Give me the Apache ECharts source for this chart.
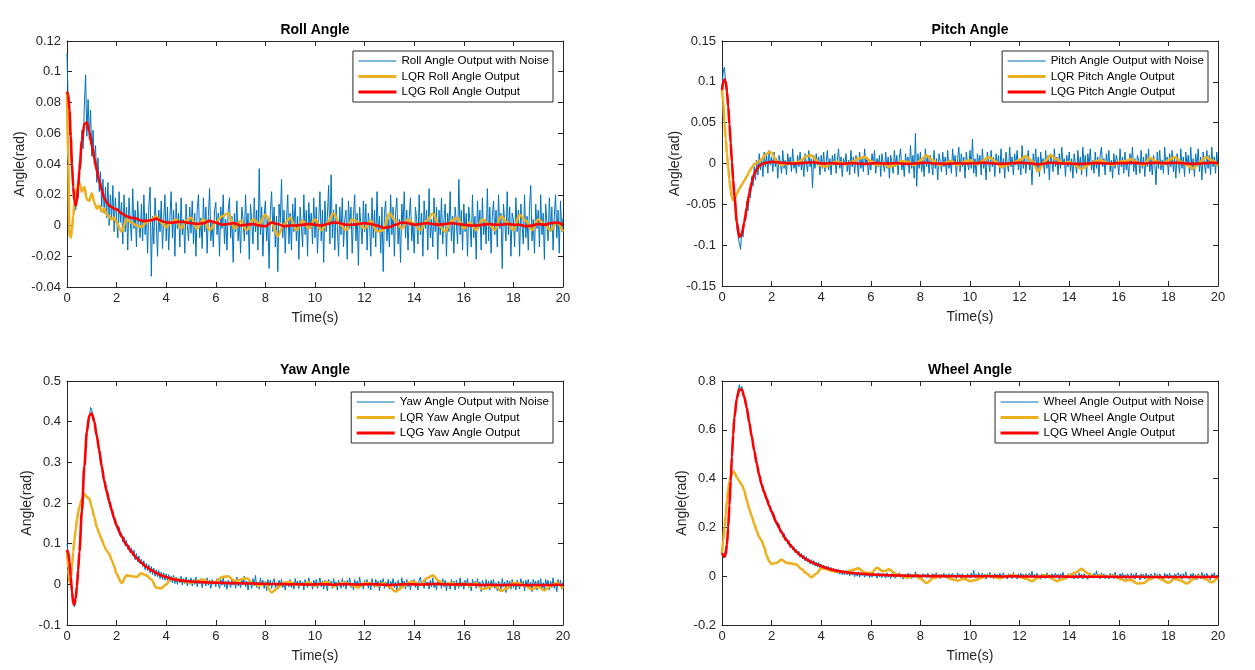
<!DOCTYPE html>
<html><head><meta charset="utf-8">
<script src="https://cdn.jsdelivr.net/npm/echarts@6/dist/echarts.min.js"></script>
<style>html,body{margin:0;padding:0;background:#fff}#c{width:1255px;height:670px}</style>
</head><body><div id="c"></div>
<script>
// ---------- DATA ----------
// knot times (s) for the smooth LQR / LQG responses
const T_SMOOTH = [
0,0.05,0.1,0.15,0.2,0.25,0.3,0.35,0.4,0.45,
0.5,0.6,0.7,0.8,0.9,1,1.1,1.2,1.3,1.4,
1.5,1.6,1.7,1.8,1.9,2,2.2,2.4,2.6,2.8,
3,3.2,3.4,3.6,3.8,4,4.2,4.4,4.6,4.8,
5,5.25,5.5,5.75,6,6.25,6.5,6.75,7,7.25,
7.5,7.75,8,8.25,8.5,8.75,9,9.25,9.5,9.75,
10,10.25,10.5,10.75,11,11.25,11.5,11.75,12,12.25,
12.5,12.75,13,13.25,13.5,13.75,14,14.25,14.5,14.75,
15,15.25,15.5,15.75,16,16.25,16.5,16.75,17,17.25,
17.5,17.75,18,18.25,18.5,18.75,19,19.25,19.5,19.75,
20];
// sample step (s) of the noisy measurement series (t = 0 ... 20)
const NOISE_DT = 0.05;

const ROLL_LQG = [
0.087,0.085,0.075,0.058,0.040,0.025,0.016,0.013,0.016,0.025,
0.036,0.055,0.066,0.067,0.061,0.052,0.044,0.036,0.029,0.023,
0.018,0.015,0.013,0.012,0.011,0.0105,0.008,0.006,0.005,0.0045,
0.003,0.003,0.0035,0.0045,0.003,0.002,0.0018,0.0022,0.0025,0.002,
0.0015,0.001,0.0015,0.003,0.002,0.0005,0.001,0.0015,0,0.0005,
0.001,0,-0.0005,0.002,0.001,-0.0005,0,0,0.0005,0.001,
0.0005,0,0.001,0.002,0.0015,0.0005,0.0005,0.001,0.0015,0.001,
0,-0.0015,-0.001,0.0005,0.002,0.0015,0.0005,0.001,0.0015,0.001,
0.0005,0.001,0.0015,0.001,0.0005,0,0,0.0005,0.001,0.0005,
0.0005,0.001,0.0005,0.0005,-0.0005,0,0.001,0.0005,0.0015,0.002,
0.0005];
const ROLL_LQR = [
0.087,0.04,-0.006,-0.008,-0.003,0.006,0.014,0.02,0.024,0.027,
0.028,0.022,0.025,0.017,0.016,0.021,0.015,0.011,0.013,0.009,
0.011,0.007,0.006,0.004,0.005,0.002,-0.004,0.004,0.002,0,
-0.001,0.002,0.004,0.006,0.002,-0.001,0.002,0.004,-0.002,0.003,
0.005,-0.002,0.004,-0.003,0.002,0.006,0.008,-0.002,0.003,-0.003,
0.004,0.001,0.007,0.002,-0.007,0.001,0.005,-0.003,0.003,-0.002,
0.004,-0.003,0.002,0.008,0.001,-0.003,0.004,0.002,-0.002,0.003,
-0.004,-0.003,0.008,0.003,-0.002,0.004,0.001,-0.003,0.003,0.008,
0,-0.004,0.003,0.005,-0.002,0.002,-0.003,0.004,0.001,-0.003,
0.006,0.002,-0.003,0.007,0.003,-0.003,0.004,0.001,-0.003,0.002,
-0.004];
const ROLL_NOISE = [
0.112,0.078,0.072,0.05,0.042,0.022,0.02,0.01,0.022,0.018,0.042,0.038,0.062,0.05,0.078,0.098,0.058,0.082,0.056,0.075,
0.045,0.062,0.04,0.052,0.028,0.044,0.022,0.035,0.012,0.03,0.008,0.025,0.005,0.028,0.0,0.02,0.004,0.026,-0.004,0.018,
0.005,-0.008,0.022,0.002,0.015,-0.012,0.02,-0.004,0.012,-0.016,0.018,0.003,-0.01,0.024,-0.002,0.01,-0.014,0.016,0.0,-0.008,
0.014,-0.01,0.02,-0.006,0.008,-0.018,0.012,0.025,-0.033,0.006,-0.012,0.018,0.002,-0.02,0.01,-0.004,0.016,-0.015,0.004,0.02,
-0.01,0.012,-0.016,0.005,0.022,-0.008,0.01,-0.02,0.015,-0.002,0.008,-0.014,0.018,-0.006,0.004,-0.018,0.014,0.0,-0.01,0.012,
-0.005,0.016,-0.012,0.008,-0.02,0.01,0.02,-0.008,0.005,-0.015,0.018,-0.004,0.012,-0.018,0.006,0.024,-0.01,0.002,-0.014,0.01,
0.015,-0.006,0.008,-0.02,0.012,-0.002,0.02,-0.012,0.004,-0.016,0.01,0.018,-0.008,0.006,-0.024,0.008,-0.004,0.016,-0.01,0.003,
-0.018,0.012,0.004,-0.01,0.02,-0.006,0.008,-0.022,0.014,0.002,-0.012,0.018,-0.004,0.01,-0.016,0.037,-0.006,0.012,-0.02,0.006,
0.016,-0.01,0.004,-0.028,0.01,0.022,-0.004,0.012,-0.014,0.006,-0.03,0.014,0.002,0.03,-0.008,0.01,-0.018,0.004,0.02,-0.012,
0.008,-0.016,0.014,-0.004,0.018,-0.01,0.006,-0.022,0.012,0.0,-0.014,0.02,-0.006,0.01,-0.02,0.015,-0.002,0.008,-0.012,0.018,
-0.008,0.012,-0.018,0.004,0.022,-0.01,0.01,-0.024,0.016,-0.004,0.006,0.026,-0.012,0.033,-0.008,0.01,-0.016,0.014,0.0,-0.02,
0.012,-0.006,0.018,-0.014,0.004,0.01,-0.022,0.016,-0.002,0.012,-0.018,0.006,0.02,-0.01,0.008,-0.026,0.012,0.0,-0.012,0.016,
-0.004,0.014,-0.016,0.008,0.002,-0.02,0.018,-0.008,0.01,-0.014,0.022,-0.004,0.006,-0.018,0.012,-0.03,0.008,0.016,-0.01,0.004,
-0.014,0.02,-0.006,0.012,-0.02,0.008,0.018,-0.012,0.004,-0.024,0.014,0.0,0.022,-0.008,0.01,-0.016,0.006,0.018,-0.01,0.002,
-0.018,0.012,0.004,-0.012,0.02,-0.006,0.008,-0.02,0.016,-0.002,0.01,-0.016,0.024,-0.008,0.004,-0.014,0.018,-0.004,0.012,-0.022,
0.01,-0.006,0.018,-0.012,0.004,0.014,-0.02,0.008,-0.004,0.022,-0.01,0.006,-0.018,0.012,0.002,-0.012,0.03,-0.006,0.01,-0.016,
0.014,-0.004,0.008,-0.02,0.012,0.002,-0.014,0.02,-0.008,0.006,-0.022,0.016,-0.002,0.01,-0.016,0.018,-0.006,0.004,-0.012,0.024,
-0.01,0.012,-0.018,0.006,0.016,-0.006,0.01,-0.014,0.02,-0.002,0.008,-0.028,0.014,0.002,-0.01,0.022,-0.006,0.012,-0.02,0.008,
0.004,-0.014,0.018,-0.004,0.01,-0.02,0.014,0.0,-0.012,0.02,-0.008,0.006,-0.016,0.012,0.026,-0.01,0.004,-0.018,0.014,-0.002,
0.01,-0.014,0.02,-0.006,0.008,-0.022,0.014,0.002,-0.01,0.018,-0.004,0.012,-0.016,0.006,0.02,-0.008,0.01,-0.018,0.016,-0.004,
0.005];

const PITCH_LQG = [
0.09,0.099,0.103,0.1,0.088,0.07,0.048,0.025,0.002,-0.02,
-0.04,-0.072,-0.09,-0.086,-0.072,-0.054,-0.037,-0.023,-0.013,-0.007,
-0.003,-0.001,0.0005,0.001,0.0015,0.002,0.0015,0.001,0.0005,0,
0,0.0005,0.001,0.0015,0.001,0,0,0.0005,0,-0.0005,
0,0.0005,0,-0.0005,0,0.0005,0,0,0.0005,0,
-0.0005,0,0.0005,0.001,0,0,-0.0005,0,0.0005,0,
0,0.0005,0.001,0.0005,0,-0.0005,0,0.0005,0.001,0.0005,
0,-0.001,0,0.001,0.0005,0,0,-0.0005,-0.0005,0,
0.0005,0.0005,0,0,0.0005,0.0005,0.001,0.0005,0,0.0005,
0.001,0.0005,0.0005,0.001,0.0005,0,-0.0005,0,0.0005,0.001,
0.0005];
const PITCH_LQR = [
0.09,0.075,0.05,0.03,0.012,-0.005,-0.02,-0.033,-0.041,-0.045,
-0.044,-0.037,-0.031,-0.026,-0.021,-0.016,-0.01,-0.005,-0.001,0.001,
0.003,0.005,0.009,0.012,0.014,0.013,0.003,-0.002,0,0.001,
0.001,0.004,0.009,0.01,0.004,-0.003,-0.004,0,0.002,0.001,
-0.001,0.002,0.006,0.008,0.003,-0.002,0,-0.004,-0.002,0.003,
0.002,-0.002,0.004,0.01,0.004,-0.002,0.001,0.003,-0.002,0.002,
0.004,-0.001,0.003,0.008,0.003,-0.004,-0.002,0.001,0.004,0.009,
0.003,-0.009,0.002,0.01,0.005,0,0.002,-0.002,-0.007,-0.002,
0.002,0.004,0.001,-0.002,0.002,0.003,0.005,0.001,-0.002,0.007,
0.003,-0.001,0.004,0.008,0.002,-0.002,-0.006,0.001,0.008,0.004,
-0.003];
const PITCH_NOISE = [
0.095,0.112,0.118,0.098,0.094,0.072,0.05,0.028,0.006,-0.018,-0.045,-0.05,-0.08,-0.078,-0.098,-0.105,-0.082,-0.09,-0.066,-0.07,
-0.046,-0.058,-0.03,-0.042,-0.016,-0.028,-0.004,-0.02,0.004,-0.014,0.012,-0.008,0.006,-0.016,0.014,-0.004,0.01,-0.012,0.016,-0.002,
0.008,-0.01,0.014,-0.004,0.006,-0.018,0.01,0.002,-0.012,0.016,-0.006,0.004,-0.014,0.012,-0.002,0.008,-0.01,0.018,-0.006,0.002,
-0.012,0.01,-0.004,0.014,-0.008,0.004,-0.016,0.012,0.0,-0.01,0.016,-0.004,0.006,-0.03,0.01,-0.006,0.012,-0.002,0.008,-0.014,
0.01,-0.006,0.014,-0.01,0.002,0.016,-0.008,0.006,-0.014,0.01,-0.002,0.012,-0.012,0.004,0.018,-0.006,0.008,-0.016,0.006,-0.002,
0.012,-0.01,0.004,-0.014,0.016,-0.004,0.008,-0.012,0.01,0.002,-0.016,0.014,-0.006,0.006,-0.01,0.018,-0.002,0.008,-0.014,0.004,
-0.008,0.012,-0.002,0.016,-0.012,0.006,-0.004,0.01,-0.016,0.012,0.0,-0.01,0.014,-0.006,0.008,-0.018,0.01,0.002,-0.012,0.016,
-0.004,0.01,-0.014,0.006,0.018,-0.008,0.004,-0.016,0.012,-0.002,0.008,-0.012,0.022,-0.006,0.01,-0.018,0.037,-0.028,0.012,-0.006,
0.014,-0.01,0.004,-0.016,0.018,-0.004,0.008,-0.012,0.01,0.0,-0.014,0.016,-0.006,0.006,-0.02,0.012,0.002,-0.01,0.014,-0.004,
0.008,-0.014,0.016,-0.006,0.004,-0.012,0.018,-0.002,0.01,-0.016,0.006,0.02,-0.01,0.012,-0.004,0.008,-0.018,0.014,0.0,-0.008,
0.016,-0.006,0.03,-0.012,0.006,-0.016,0.012,-0.002,0.01,-0.014,0.018,-0.006,0.004,-0.02,0.014,0.002,-0.01,0.016,-0.004,0.008,
-0.016,0.012,-0.002,0.01,-0.012,0.018,-0.006,0.006,-0.018,0.014,0.0,-0.01,0.02,-0.004,0.008,-0.014,0.012,-0.002,0.016,-0.008,
0.006,-0.014,0.022,-0.006,0.01,-0.012,0.004,0.016,-0.008,0.002,-0.026,0.012,-0.004,0.018,-0.01,0.008,-0.016,0.014,-0.002,0.006,
-0.012,0.016,-0.006,0.01,-0.02,0.012,0.002,-0.01,0.018,-0.004,0.008,-0.014,0.012,-0.006,0.02,-0.002,0.006,-0.016,0.01,-0.004,
0.014,-0.01,0.006,-0.018,0.012,0.0,-0.012,0.016,-0.006,0.008,-0.014,0.02,-0.004,0.01,-0.016,0.012,-0.002,0.018,-0.008,0.004,
-0.012,0.014,-0.006,0.008,-0.016,0.01,0.02,-0.004,0.006,-0.014,0.012,-0.002,0.016,-0.01,0.004,-0.018,0.012,-0.006,0.01,0.002,
-0.014,0.018,-0.004,0.008,-0.012,0.014,-0.008,0.002,-0.016,0.012,-0.002,0.02,-0.01,0.006,-0.014,0.01,0.004,-0.012,0.016,-0.006,
0.008,-0.016,0.012,-0.004,0.018,-0.01,0.006,-0.014,0.01,0.0,-0.026,0.014,-0.006,0.016,-0.008,0.004,-0.012,0.02,-0.002,0.008,
-0.014,0.012,-0.004,0.016,-0.01,0.006,-0.018,0.012,0.002,-0.012,0.018,-0.006,0.008,-0.016,0.014,-0.002,0.01,-0.012,0.02,-0.008,
0.006,-0.016,0.012,-0.004,0.018,-0.01,0.008,-0.02,0.014,0.0,-0.012,0.016,-0.006,0.01,-0.014,0.02,-0.004,0.008,-0.012,0.014,
-0.004];

const YAW_LQG = [
0.085,0.078,0.055,0.02,-0.018,-0.045,-0.05,-0.035,-0.005,0.035,
0.08,0.18,0.29,0.375,0.415,0.42,0.4,0.365,0.33,0.29,
0.255,0.23,0.205,0.183,0.163,0.145,0.118,0.097,0.08,0.065,
0.053,0.043,0.035,0.028,0.022,0.018,0.014,0.011,0.009,0.008,
0.007,0.006,0.005,0.0045,0.004,0.0035,0.003,0.003,0.0025,0.002,
0.002,0.0015,0.001,0.001,0.0005,0.0005,0,0.0005,0,-0.0005,
0,0.0005,0,-0.001,0,0.0005,0,-0.0005,0,0.0005,
0,-0.001,-0.0015,-0.001,0,0.0005,0,-0.0005,0,0.001,
0.0005,0,-0.0005,0,0,-0.0005,-0.001,-0.0015,-0.001,-0.0015,
-0.002,-0.0015,-0.001,-0.0015,-0.002,-0.002,-0.0015,-0.002,-0.0015,-0.001,
-0.0015];
const YAW_LQR = [
0.085,0.04,0.005,0.015,0.045,0.08,0.11,0.135,0.158,0.178,
0.19,0.21,0.222,0.215,0.21,0.19,0.165,0.14,0.125,0.11,
0.095,0.082,0.075,0.06,0.045,0.025,0.003,0.022,0.02,0.018,
0.027,0.022,0.012,-0.008,-0.01,0,0.015,0.012,0.01,0.006,
0.004,0.008,0.012,0.004,0.006,0.018,0.02,0.008,0.012,0.015,
0.002,-0.004,0.003,-0.02,-0.008,0.004,0.006,-0.002,0,0.005,
-0.004,0.002,0.006,-0.005,0.002,0.004,-0.003,-0.008,0.004,0.002,
-0.004,0.003,-0.006,-0.018,-0.008,0.004,0.006,-0.002,0.015,0.022,
0.008,0,0.004,-0.003,0.002,-0.004,0.003,-0.012,-0.008,-0.002,
-0.016,-0.01,0.004,0.002,-0.004,-0.012,-0.006,-0.015,-0.004,0.004,
-0.01];
const YAW_NOISE = [
0.1,0.072,0.06,0.015,-0.014,-0.05,-0.055,-0.03,-0.01,0.04,0.076,0.135,0.176,0.24,0.285,0.34,0.37,0.405,0.41,0.435,
0.43,0.405,0.41,0.378,0.372,0.34,0.336,0.304,0.296,0.266,0.262,0.236,0.238,0.21,0.212,0.188,0.19,0.166,0.17,0.148,
0.152,0.132,0.14,0.118,0.126,0.104,0.116,0.094,0.108,0.086,0.096,0.078,0.09,0.07,0.084,0.06,0.076,0.055,0.07,0.05,
0.062,0.044,0.058,0.036,0.052,0.034,0.048,0.028,0.044,0.024,0.04,0.02,0.036,0.018,0.034,0.014,0.03,0.012,0.028,0.01,
0.026,0.01,0.024,0.006,0.02,0.004,0.022,0.002,0.018,0.0,0.016,0.004,0.02,-0.002,0.014,0.002,0.018,-0.004,0.012,0.0,
0.016,-0.004,0.012,0.0,0.018,-0.006,0.01,0.002,0.014,-0.008,0.012,0.004,-0.004,0.016,-0.002,0.01,-0.01,0.012,0.0,0.008,
-0.006,0.014,0.002,-0.01,0.012,-0.002,0.016,-0.006,0.008,-0.012,0.01,0.004,-0.008,0.014,-0.002,0.01,-0.01,0.018,-0.004,0.006,
-0.008,0.012,0.0,0.02,-0.006,0.008,-0.014,0.01,0.002,-0.01,0.014,-0.004,0.022,-0.008,0.006,-0.012,0.016,-0.002,0.01,-0.01,
0.008,-0.016,0.012,-0.004,0.01,-0.01,0.006,0.014,-0.008,0.004,-0.012,0.01,-0.002,0.012,-0.008,0.006,-0.014,0.008,0.0,-0.006,
0.012,-0.008,0.004,-0.012,0.014,-0.002,0.008,-0.01,0.01,-0.004,0.006,-0.014,0.012,0.0,-0.008,0.016,-0.004,0.006,-0.012,0.01,
-0.004,0.012,-0.01,0.004,0.016,-0.006,0.008,-0.012,0.01,0.0,-0.016,0.012,-0.004,0.008,-0.01,0.014,-0.002,0.006,-0.014,0.01,
0.002,-0.01,0.014,-0.006,0.008,-0.012,0.01,-0.002,0.016,-0.008,0.004,-0.014,0.012,-0.004,0.008,-0.01,0.018,-0.006,0.004,-0.012,
0.01,-0.002,0.012,-0.01,0.006,-0.014,0.014,0.0,-0.008,0.012,-0.004,0.008,-0.016,0.01,-0.002,0.014,-0.01,0.006,-0.006,0.012,
-0.012,0.008,-0.002,0.014,-0.008,0.006,-0.016,0.01,0.0,-0.01,0.016,-0.004,0.008,-0.012,0.012,-0.006,0.004,-0.014,0.01,-0.002,
0.012,-0.008,0.006,-0.014,0.01,0.018,-0.004,0.008,-0.01,0.014,-0.002,0.006,-0.012,0.01,-0.006,0.016,-0.008,0.004,-0.014,0.012,
-0.002,0.008,-0.01,0.014,-0.006,0.01,-0.016,0.006,0.002,-0.012,0.012,-0.004,0.008,-0.014,0.01,0.0,-0.01,0.016,-0.006,0.006,
-0.012,0.01,-0.002,0.014,-0.008,0.004,-0.016,0.012,-0.004,0.008,-0.01,0.014,-0.002,0.006,-0.018,0.01,0.0,-0.012,0.012,-0.006,
0.008,-0.014,0.01,-0.002,0.012,-0.01,0.004,-0.016,0.008,0.002,-0.012,0.014,-0.006,0.006,-0.02,0.01,-0.004,0.008,-0.012,0.012,
-0.008,0.004,-0.014,0.01,0.0,-0.012,0.014,-0.004,0.008,-0.016,0.01,-0.006,0.012,-0.01,0.006,-0.018,0.012,-0.002,0.008,-0.014,
0.01,-0.006,0.014,-0.012,0.004,-0.016,0.012,-0.002,0.01,-0.014,0.008,-0.008,0.016,-0.01,0.004,-0.018,0.012,-0.004,0.01,-0.012,
0.006];

const WHEEL_LQG = [
0.095,0.085,0.08,0.09,0.13,0.2,0.29,0.39,0.49,0.58,
0.65,0.73,0.765,0.765,0.735,0.69,0.63,0.572,0.515,0.462,
0.415,0.375,0.345,0.318,0.29,0.265,0.22,0.18,0.148,0.122,
0.1,0.083,0.069,0.058,0.049,0.041,0.034,0.028,0.023,0.019,
0.016,0.013,0.011,0.009,0.007,0.006,0.005,0.004,0.003,0.003,
0.002,0.002,0.001,0.001,0.0005,0.0005,0,0,0,-0.0005,
0,0,-0.0005,0,0,-0.001,-0.001,-0.0005,-0.001,-0.0015,
-0.001,-0.0015,-0.002,-0.0015,-0.001,-0.0015,-0.002,-0.002,-0.0015,-0.002,
-0.0025,-0.002,-0.002,-0.0025,-0.003,-0.0025,-0.003,-0.0025,-0.003,-0.0035,
-0.003,-0.0035,-0.003,-0.003,-0.0035,-0.003,-0.0035,-0.003,-0.003,-0.0025,
-0.003];
const WHEEL_LQR = [
0.095,0.15,0.2,0.25,0.31,0.355,0.385,0.405,0.42,0.43,
0.425,0.405,0.39,0.375,0.35,0.31,0.275,0.245,0.215,0.185,
0.16,0.145,0.12,0.085,0.062,0.05,0.055,0.068,0.055,0.052,
0.048,0.03,0.012,-0.004,0.01,0.032,0.03,0.022,0.018,0.02,
0.016,0.025,0.032,0.015,0.012,0.034,0.02,0.028,0.01,0,
-0.006,0.004,-0.01,-0.028,-0.008,-0.002,0.002,-0.012,-0.018,-0.01,
-0.02,-0.015,-0.005,0.003,-0.004,-0.008,0,0.005,-0.003,-0.01,
-0.02,-0.006,0.005,-0.005,-0.02,-0.012,0.004,0.015,0.03,0.012,
0,0.003,-0.004,0.002,-0.008,-0.018,-0.015,-0.03,-0.028,-0.012,
0,-0.015,-0.027,-0.01,-0.018,-0.03,-0.012,0.002,-0.012,-0.025,
-0.004];
const WHEEL_NOISE = [
0.105,0.075,0.09,0.082,0.14,0.192,0.298,0.382,0.498,0.572,0.66,0.688,0.74,0.745,0.785,0.76,0.778,0.745,0.742,0.705,
0.698,0.652,0.638,0.592,0.58,0.535,0.522,0.48,0.47,0.43,0.422,0.388,0.382,0.352,0.352,0.325,0.326,0.296,0.298,0.27,
0.275,0.245,0.252,0.222,0.23,0.2,0.212,0.18,0.19,0.162,0.175,0.146,0.158,0.132,0.146,0.118,0.132,0.108,0.12,0.096,
0.11,0.088,0.102,0.078,0.094,0.07,0.086,0.062,0.08,0.058,0.072,0.05,0.068,0.046,0.064,0.042,0.058,0.038,0.056,0.034,
0.05,0.032,0.046,0.028,0.042,0.024,0.04,0.02,0.036,0.018,0.032,0.014,0.03,0.012,0.028,0.008,0.026,0.006,0.024,0.006,
0.024,0.006,0.022,0.002,0.02,0.004,0.018,-0.002,0.016,0.0,0.018,-0.004,0.014,0.002,0.016,-0.004,0.012,0.0,0.014,-0.006,
0.012,-0.004,0.016,0.0,0.01,-0.008,0.014,-0.002,0.01,-0.006,0.012,0.002,-0.008,0.014,-0.004,0.008,-0.01,0.012,0.0,0.008,
-0.008,0.01,-0.002,0.014,-0.006,0.006,-0.012,0.008,0.002,-0.008,0.012,-0.004,0.01,-0.01,0.006,-0.006,0.018,-0.004,0.008,-0.01,
0.006,-0.012,0.01,-0.002,0.008,-0.008,0.012,-0.006,0.004,-0.012,0.01,0.0,-0.008,0.014,-0.004,0.006,-0.01,0.008,-0.002,0.012,
-0.006,0.008,-0.012,0.01,0.0,-0.008,0.012,-0.004,0.006,-0.01,0.014,-0.002,0.008,-0.012,0.01,-0.006,0.004,-0.014,0.01,0.002,
-0.008,0.012,-0.004,0.024,-0.006,0.008,-0.01,0.014,0.0,-0.008,0.012,-0.004,0.008,-0.012,0.01,-0.002,0.016,-0.008,0.006,-0.01,
0.01,-0.004,0.008,-0.012,0.012,0.0,-0.008,0.014,-0.006,0.006,-0.012,0.01,-0.002,0.008,-0.01,0.016,-0.004,0.006,-0.012,0.01,
-0.006,0.012,-0.002,0.008,-0.014,0.01,0.0,-0.008,0.012,-0.004,0.02,-0.006,0.008,-0.01,0.012,-0.002,0.006,-0.012,0.01,-0.006,
0.008,-0.01,0.014,-0.004,0.006,-0.012,0.01,0.0,-0.008,0.012,-0.006,0.008,-0.014,0.01,-0.002,0.016,-0.006,0.004,-0.012,0.01,
-0.004,0.012,-0.008,0.006,-0.012,0.01,0.002,-0.01,0.014,-0.004,0.008,-0.012,0.01,-0.002,0.006,-0.014,0.012,-0.004,0.008,-0.008,
0.012,-0.006,0.022,-0.002,0.008,-0.012,0.014,-0.004,0.01,-0.01,0.006,0.0,-0.012,0.012,-0.004,0.008,-0.01,0.016,-0.006,0.004,
-0.012,0.01,-0.002,0.014,-0.008,0.006,-0.014,0.01,0.0,-0.01,0.012,-0.004,0.008,-0.012,0.014,-0.006,0.004,-0.016,0.01,-0.002,
0.008,-0.012,0.012,-0.004,0.006,-0.016,0.01,0.002,-0.01,0.014,-0.006,0.008,-0.012,0.01,-0.002,0.006,-0.014,0.012,-0.004,0.008,
-0.01,0.012,-0.006,0.004,-0.014,0.01,0.0,-0.008,0.014,-0.004,0.008,-0.012,0.01,-0.006,0.018,-0.002,0.006,-0.012,0.01,-0.004,
0.012,-0.008,0.006,-0.014,0.01,0.002,-0.01,0.016,-0.004,0.008,-0.012,0.012,-0.002,0.006,-0.014,0.01,-0.006,0.014,-0.008,0.004,
0.002];

const TITLES = ['Roll Angle','Pitch Angle','Yaw Angle','Wheel Angle'];
const X_NAME = 'Time(s)';
const Y_NAME = 'Angle(rad)';
const Y_RANGES = [[-0.04,0.12,0.02],[-0.15,0.15,0.05],[-0.1,0.5,0.1],[-0.2,0.8,0.2]];
const X_RANGE = [0,20,2];

// ---------- LAYOUT / STYLE ----------
const FONT = '"Liberation Sans", Arial, Helvetica, sans-serif';
const AX = '#262626';
const C_NOISE = '#0072BD', C_LQR = '#EDB120', C_LQG = '#FF0000';
const W_NOISE = 1, W_CTRL = 2.6;
const LAYOUT = [
  {left:67, top:41, width:496, height:246, tx:315, ty:30, lr:702, lt:51, ng:38},
  {left:722, top:41, width:496, height:245, tx:970, ty:30, lr:47, lt:51, ng:40},
  {left:67, top:381, width:496, height:244, tx:315, ty:370, lr:702, lt:392, ng:33},
  {left:722, top:381, width:496, height:244, tx:970, ty:370, lr:47, lt:392, ng:33}
];

const PANELS = [
  {noise: ROLL_NOISE, lqr: ROLL_LQR, lqg: ROLL_LQG, label: 'Roll'},
  {noise: PITCH_NOISE, lqr: PITCH_LQR, lqg: PITCH_LQG, label: 'Pitch'},
  {noise: YAW_NOISE, lqr: YAW_LQR, lqg: YAW_LQG, label: 'Yaw'},
  {noise: WHEEL_NOISE, lqr: WHEEL_LQR, lqg: WHEEL_LQG, label: 'Wheel'}
];

const grid = [], xAxis = [], yAxis = [], series = [], legend = [], graphic = [];
const tickStyle = {show:true, inside:true, length:5, lineStyle:{color:AX, width:1}};
const lineStyleAx = {show:true, onZero:false, lineStyle:{color:AX, width:1}};
const hiddenSym = {color:'rgba(0,0,0,0)', borderColor:'rgba(0,0,0,0)', borderWidth:0, opacity:0};

PANELS.forEach((p, k) => {
  const L = LAYOUT[k];
  const yr = Y_RANGES[k];
  grid.push({left:L.left, top:L.top, width:L.width, height:L.height, containLabel:false, outerBoundsMode:'none'});
  xAxis.push({type:'value', gridIndex:k, position:'bottom', min:X_RANGE[0], max:X_RANGE[1], interval:X_RANGE[2],
    axisLine:lineStyleAx, axisTick:tickStyle, splitLine:{show:false},
    axisLabel:{show:true, margin:5, color:AX, fontSize:13, fontFamily:FONT},
    name:X_NAME, nameLocation:'middle', nameGap:24, nameTextStyle:{fontSize:14, color:AX, fontFamily:FONT}});
  xAxis.push({type:'value', gridIndex:k, position:'top', min:X_RANGE[0], max:X_RANGE[1], interval:X_RANGE[2],
    axisLine:lineStyleAx, axisTick:tickStyle, splitLine:{show:false}, axisLabel:{show:false}});
  yAxis.push({type:'value', gridIndex:k, position:'left', min:yr[0], max:yr[1], interval:yr[2],
    axisLine:lineStyleAx, axisTick:tickStyle, splitLine:{show:false},
    axisLabel:{show:true, margin:6, color:AX, fontSize:13, fontFamily:FONT},
    name:Y_NAME, nameLocation:'middle', nameGap:L.ng, nameTextStyle:{fontSize:14, color:AX, fontFamily:FONT}});
  yAxis.push({type:'value', gridIndex:k, position:'right', min:yr[0], max:yr[1], interval:yr[2],
    axisLine:lineStyleAx, axisTick:tickStyle, splitLine:{show:false}, axisLabel:{show:false}});

  const nNoise = p.label + ' Angle Output with Noise';
  const nLqr = 'LQR ' + p.label + ' Angle Output';
  const nLqg = 'LQG ' + p.label + ' Angle Output';
  series.push({type:'line', name:nNoise, xAxisIndex:2*k, yAxisIndex:2*k, symbol:'none', showSymbol:false,
    data: p.noise.map((v,i) => [i*NOISE_DT, v]), lineStyle:{width:W_NOISE, color:C_NOISE}, itemStyle:{color:C_NOISE}, z:2});
  series.push({type:'line', name:nLqr, xAxisIndex:2*k, yAxisIndex:2*k, symbol:'none', showSymbol:false, smooth:0.3, smoothMonotone:'x',
    data: T_SMOOTH.map((t,i) => [t, p.lqr[i]]), lineStyle:{width:W_CTRL, color:C_LQR}, itemStyle:{color:C_LQR}, z:3});
  series.push({type:'line', name:nLqg, xAxisIndex:2*k, yAxisIndex:2*k, symbol:'none', showSymbol:false, smooth:0.3, smoothMonotone:'x',
    data: T_SMOOTH.map((t,i) => [t, p.lqg[i]]), lineStyle:{width:W_CTRL, color:C_LQG}, itemStyle:{color:C_LQG}, z:4});

  legend.push({show:true, orient:'vertical', right:L.lr, top:L.lt, itemWidth:38, itemHeight:12, itemGap:3.5,
    padding:[4,4,4,4], borderColor:AX, borderWidth:1, borderRadius:0, backgroundColor:'#fff',
    itemStyle:hiddenSym, selectedMode:false, textStyle:{fontSize:11.6, color:'#000', fontFamily:FONT},
    data:[
      {name:nNoise, itemStyle:hiddenSym, lineStyle:{width:W_NOISE, color:C_NOISE}},
      {name:nLqr, itemStyle:hiddenSym, lineStyle:{width:3, color:C_LQR}},
      {name:nLqg, itemStyle:hiddenSym, lineStyle:{width:3, color:C_LQG}}
    ]});

  graphic.push({type:'text', x:L.tx, y:L.ty, style:{text:TITLES[k], fill:'#000', font:'bold 14px ' + FONT,
    align:'center', verticalAlign:'middle', textAlign:'center', textVerticalAlign:'middle'}});
});

const chart = echarts.init(document.getElementById('c'), null, {renderer:'canvas'});
chart.setOption({animation:false, backgroundColor:'#fff', grid, xAxis, yAxis, series, legend, graphic, tooltip:{show:false}});
</script></body></html>
